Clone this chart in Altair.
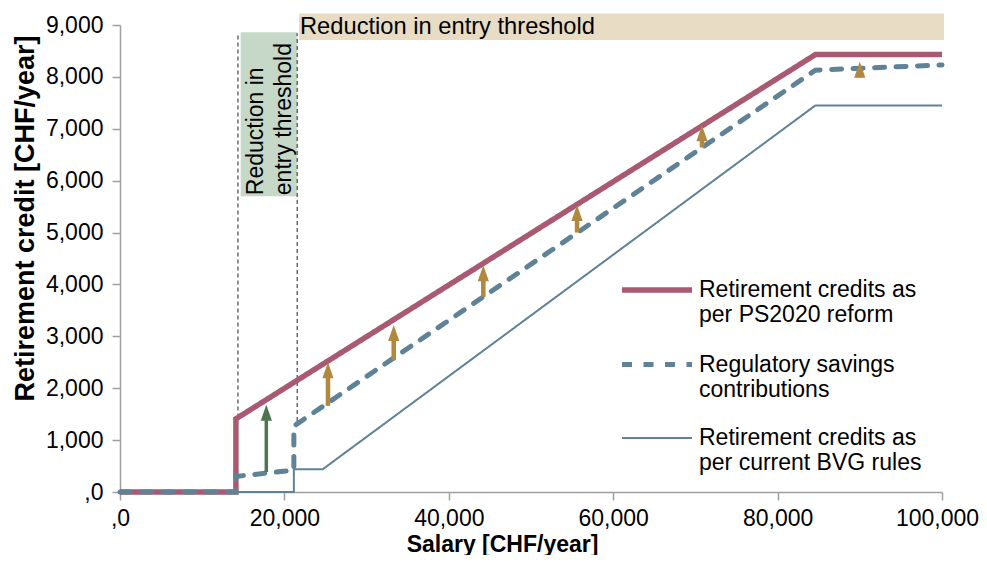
import altair as alt
import pandas as pd

FONT = "Liberation Sans"

# ---------------- data ----------------
# Retirement credits as per current BVG rules (thin line)
bvg_x = [0, 21150, 21150, 24675, 84600, 100000]
bvg_y = [0, 0, 440, 440, 7450, 7450]
# Retirement credits as per PS2020 reform (thick red line)
ps_x = [0, 14100, 14100, 84600, 100000]
ps_y = [0, 0, 1410, 8430, 8430]
# Regulatory savings contributions (dashed line)
reg_x = [0, 14100, 14100, 21150, 21150, 84600, 100000]
reg_y = [0, 0, 300, 420, 1270, 8130, 8230]

series_names = [
    "Retirement credits as|per PS2020 reform",
    "Regulatory savings|contributions",
    "Retirement credits as|per current BVG rules",
]
series_colors = ["#A95A72", "#5F8296", "#5F8296"]
series_widths = [5.5, 5, 2]
series_dashes = [[1, 0], [10, 11.5], [1, 0]]

# gold arrows (dashed line -> PS2020 line)
gold_x = [25300, 33300, 44200, 55600, 70800, 90000]
gold_base = [1660, 2540, 3760, 5000, 6640, 7990]
gold_tip = [2500, 3220, 4370, 5530, 7070, 8290]
# green arrow
green_x = [17800]
green_base = [385]
green_tip = [1680]

# annotation boxes
tan_box = {"x": [21780], "x2": [100240], "y": [8710], "y2": [9220]}
green_box = {"x": [14680], "x2": [21560], "y": [5700], "y2": [8860]}
vrule_x = [14350, 21560]
vrule_y = [1435, 1370]
vrule_y2 = [8840, 8840]
tan_text = "Reduction in entry threshold"
tan_text_pos = {"x": [21900], "y": [8960]}
green_text = ["Reduction in", "entry threshold"]
green_text_pos = {"x": [15150], "y": [5720]}

x_ticks = [0, 20000, 40000, 60000, 80000, 100000]
y_ticks = [0, 1000, 2000, 3000, 4000, 5000, 6000, 7000, 8000, 9000]

# ---------------- tables ----------------
rows = []
for name, xs, ys in [(series_names[2], bvg_x, bvg_y),
                     (series_names[0], ps_x, ps_y),
                     (series_names[1], reg_x, reg_y)]:
    for i, (xv, yv) in enumerate(zip(xs, ys)):
        rows.append({"series": name, "salary": xv, "credit": yv, "ord": i})
lines_df = pd.DataFrame(rows)

gold_df = pd.DataFrame({"salary": gold_x, "base": gold_base, "tip": gold_tip})
green_df = pd.DataFrame({"salary": green_x, "base": green_base, "tip": green_tip})
vrule_df = pd.DataFrame({"salary": vrule_x, "y1": vrule_y, "y2": vrule_y2})

# ---------------- scales / axes ----------------
xscale = alt.Scale(domain=[0, 100000], nice=False, zero=False)
yscale = alt.Scale(domain=[0, 9000], nice=False, zero=False)

common_axis = dict(
    grid=False, domainColor="#A0A0A0", domainWidth=1.5, tickColor="#A0A0A0",
    tickWidth=1.5, tickSize=8, labelFont=FONT, labelFontSize=23,
    labelColor="#000000", titleFont=FONT, titleColor="#000000",
    titleFontWeight="bold", labelFlush=False,
    labelExpr="datum.value == 0 ? ',0' : format(datum.value, ',')",
)
xaxis = alt.Axis(title="Salary [CHF/year]", values=x_ticks, labelPadding=7,
                 labelOffset={"condition": {"test": "datum.value == 100000", "value": -5},
                              "value": 0},
                 titleFontSize=23, titleX=382, titleY=59, titleAlign="center",
                 titleBaseline="alphabetic", **common_axis)
yaxis = alt.Axis(title="Retirement credit [CHF/year]", values=y_ticks,
                 labelPadding=9, titleFontSize=27, titleAngle=270, titleX=-87,
                 titleY=193, titleAlign="center", titleBaseline="alphabetic",
                 **common_axis)


def X(field):
    return alt.X(field, type="quantitative", scale=xscale, axis=xaxis)


def Y(field):
    return alt.Y(field, type="quantitative", scale=yscale, axis=yaxis)


color = alt.Color(
    "series:N",
    scale=alt.Scale(domain=series_names, range=series_colors),
    legend=alt.Legend(
        title=None, orient="none", legendX=499, legendY=227,
        symbolType="stroke", symbolSize=4900, labelExpr="split(datum.label, '|')",
        labelBaseline="middle", labelFont=FONT, labelFontSize=23,
        labelColor="#000000", labelLimit=400, labelOffset=4, rowPadding=-2,
        padding=0,
    ),
)
swidth = alt.StrokeWidth("series:N", scale=alt.Scale(type="ordinal", domain=series_names,
                                                     range=series_widths))
sdash = alt.StrokeDash("series:N", scale=alt.Scale(domain=series_names, range=series_dashes))

# ---------------- layers ----------------
tan_rect = alt.Chart(pd.DataFrame(tan_box)).mark_rect(color="#E8DCC5").encode(
    x=X("x"), x2="x2", y=Y("y"), y2="y2")
green_rect = alt.Chart(pd.DataFrame(green_box)).mark_rect(color="#C6D8C8").encode(
    x=X("x"), x2="x2", y=Y("y"), y2="y2")
vrules = alt.Chart(vrule_df).mark_rule(color="#555555", strokeDash=[4, 3], strokeWidth=1.3).encode(
    x=X("salary"), y=Y("y1"), y2="y2")


def line_layer(name, cap):
    return alt.Chart(lines_df).transform_filter(
        alt.datum.series == name
    ).mark_line(strokeCap=cap, strokeJoin="miter").encode(
        x=X("salary"), y=Y("credit"), order="ord:Q",
        color=color, strokeWidth=swidth, strokeDash=sdash,
    )


l_bvg = line_layer(series_names[2], "butt")
l_ps = line_layer(series_names[0], "butt")
l_reg = line_layer(series_names[1], "round")

HEAD = "M0,0L0.7,2L-0.7,2Z"


def arrow(df, col, shaft_w):
    shaft = alt.Chart(df).transform_calculate(top="datum.tip - 200").mark_rule(
        color=col, strokeWidth=shaft_w).encode(x=X("salary"), y=Y("base"), y2="top:Q")
    head = alt.Chart(df).mark_point(shape=HEAD, size=256, filled=True, opacity=1,
                                    strokeWidth=0, color=col).encode(
        x=X("salary"), y=Y("tip"))
    return shaft + head


gold = arrow(gold_df, "#B0883F", 4.5)
green = arrow(green_df, "#4E7452", 3.5)

t_tan = alt.Chart(pd.DataFrame(tan_text_pos)).mark_text(
    text=tan_text, align="left", baseline="middle", font=FONT, fontSize=23.7,
    color="#000000").encode(x=X("x"), y=Y("y"))
t_green = alt.Chart(pd.DataFrame(green_text_pos)).mark_text(
    text=green_text, align="left", baseline="top", angle=270, lineHeight=28,
    font=FONT, fontSize=23, color="#000000").encode(x=X("x"), y=Y("y"))

chart = alt.layer(
    tan_rect, green_rect, vrules, l_bvg, l_ps, l_reg, gold, green, t_tan, t_green
).properties(
    width=822, height=467,
    padding={"left": 112, "top": 17, "right": 37, "bottom": 63},
    autosize=alt.AutoSizeParams(type="none"),
    background="#FFFFFF",
).configure_view(stroke=None)

chart.save("out.html", embed_options={"renderer": "svg", "actions": False})
